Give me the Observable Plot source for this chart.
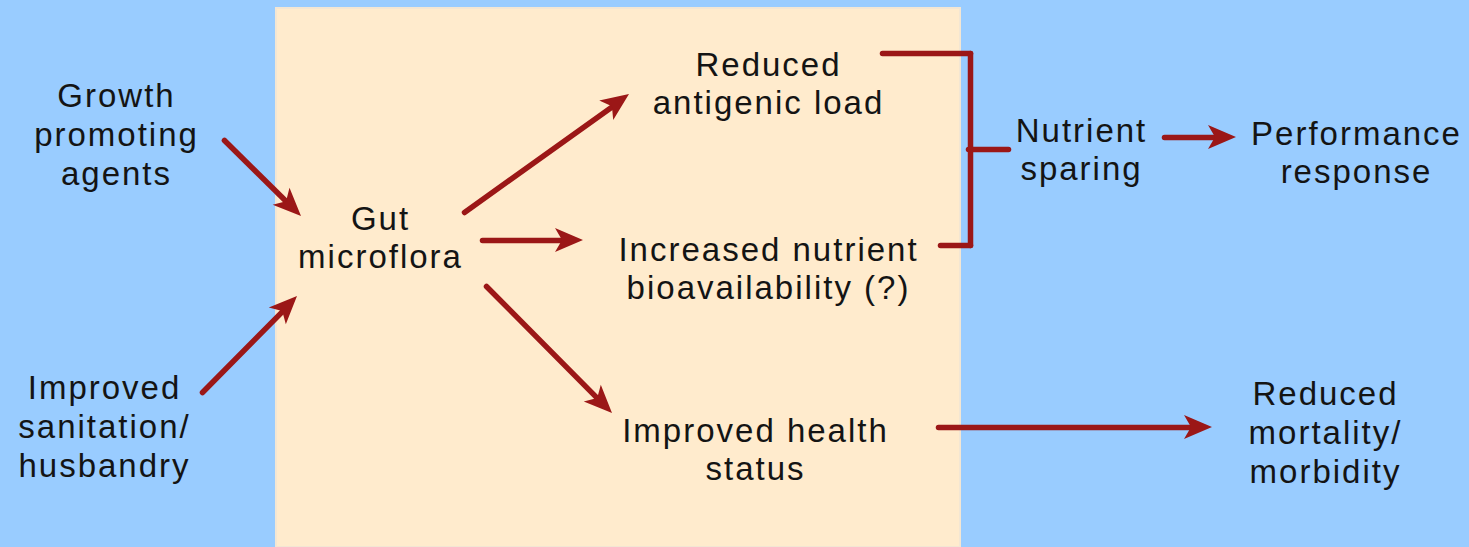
<!DOCTYPE html>
<html>
<head>
<meta charset="utf-8">
<script src="https://cdn.jsdelivr.net/npm/d3@7"></script>
<script src="https://cdn.jsdelivr.net/npm/@observablehq/plot@0.6"></script>
<style>
  html, body { margin: 0; padding: 0; background: #99ccff; overflow: hidden; }
  #chart svg text { letter-spacing: 2px; }
</style>
</head>
<body>
<div id="chart"></div>
<script>
// Diagram layout units (0..1469 across, 0..547 down)
const panel = [{x1: 276, x2: 960, y1: 8, y2: 547}];

const labels = [
  {x: 116, y: 133, text: "Growth\npromoting\nagents"},
  {x: 380, y: 236, text: "Gut\nmicroflora"},
  {x: 104, y: 425, text: "Improved\nsanitation/\nhusbandry"},
  {x: 768, y: 82, text: "Reduced\nantigenic load"},
  {x: 768, y: 267, text: "Increased nutrient\nbioavailability (?)"},
  {x: 755, y: 448, text: "Improved health\nstatus"},
  {x: 1081, y: 148, text: "Nutrient\nsparing"},
  {x: 1356, y: 151, text: "Performance\nresponse"},
  {x: 1325, y: 431, text: "Reduced\nmortality/\nmorbidity"}
];

const arrows = [
  {x1: 224, y1: 140, x2: 301, y2: 216},
  {x1: 202, y1: 392, x2: 297, y2: 296},
  {x1: 464, y1: 212, x2: 629, y2: 94},
  {x1: 482, y1: 240, x2: 583, y2: 240},
  {x1: 486, y1: 286, x2: 612, y2: 413},
  {x1: 938, y1: 427, x2: 1212, y2: 427},
  {x1: 1164, y1: 137, x2: 1236, y2: 137}
];

const bracket = [
  {x1: 882, y1: 53, x2: 970, y2: 53},
  {x1: 970, y1: 53, x2: 970, y2: 245},
  {x1: 940, y1: 245, x2: 970, y2: 245},
  {x1: 968, y1: 149, x2: 1008, y2: 149}
];

const RED = "#9b1717";
const HEAD_LEN = 28, HEAD_HALF = 12, NOTCH = 7;

function shaftEnd(a) {
  const dx = a.x2 - a.x1, dy = a.y2 - a.y1, L = Math.hypot(dx, dy);
  return {x: a.x2 - dx / L * (HEAD_LEN - NOTCH), y: a.y2 - dy / L * (HEAD_LEN - NOTCH)};
}

const headsMark = (index, scales) => {
  const g = document.createElementNS("http://www.w3.org/2000/svg", "g");
  for (const a of arrows) {
    const tx = scales.x(a.x2), ty = scales.y(a.y2);
    const sx = scales.x(a.x1), sy = scales.y(a.y1);
    const dx = tx - sx, dy = ty - sy, L = Math.hypot(dx, dy);
    const ux = dx / L, uy = dy / L, nx = -uy, ny = ux;
    const bx = tx - ux * HEAD_LEN, by = ty - uy * HEAD_LEN;
    const cx = tx - ux * (HEAD_LEN - NOTCH), cy = ty - uy * (HEAD_LEN - NOTCH);
    const pts = [
      [tx, ty],
      [bx + nx * HEAD_HALF, by + ny * HEAD_HALF],
      [cx, cy],
      [bx - nx * HEAD_HALF, by - ny * HEAD_HALF]
    ];
    const p = document.createElementNS("http://www.w3.org/2000/svg", "polygon");
    p.setAttribute("points", pts.map(d => d.join(",")).join(" "));
    p.setAttribute("fill", RED);
    g.appendChild(p);
  }
  return g;
};

const chart = Plot.plot({
  width: 1469,
  height: 547,
  margin: 0,
  x: {domain: [0, 1469], range: [0, 1469], axis: null},
  y: {domain: [0, 547], range: [0, 547], axis: null},
  style: {background: "#99ccff", fontFamily: "'Liberation Sans', Arial, Helvetica, sans-serif"},
  marks: [
    Plot.rect(panel, {x1: "x1", x2: "x2", y1: "y1", y2: "y2", fill: "#ffebcd", stroke: "#f3e6d3", strokeWidth: 2}),
    Plot.link(arrows, {
      x1: "x1", y1: "y1",
      x2: d => shaftEnd(d).x, y2: d => shaftEnd(d).y,
      stroke: RED, strokeWidth: 5.5, strokeLinecap: "round"
    }),
    headsMark,
    Plot.link(bracket, {x1: "x1", y1: "y1", x2: "x2", y2: "y2", stroke: RED, strokeWidth: 5.5, strokeLinecap: "round"}),
    Plot.text(labels, {
      x: "x", y: "y", text: "text",
      fontSize: 33, lineHeight: 1.18, fill: "#141414",
      textAnchor: "middle", lineAnchor: "middle"
    })
  ]
});
document.getElementById("chart").appendChild(chart);
</script>
</body>
</html>
